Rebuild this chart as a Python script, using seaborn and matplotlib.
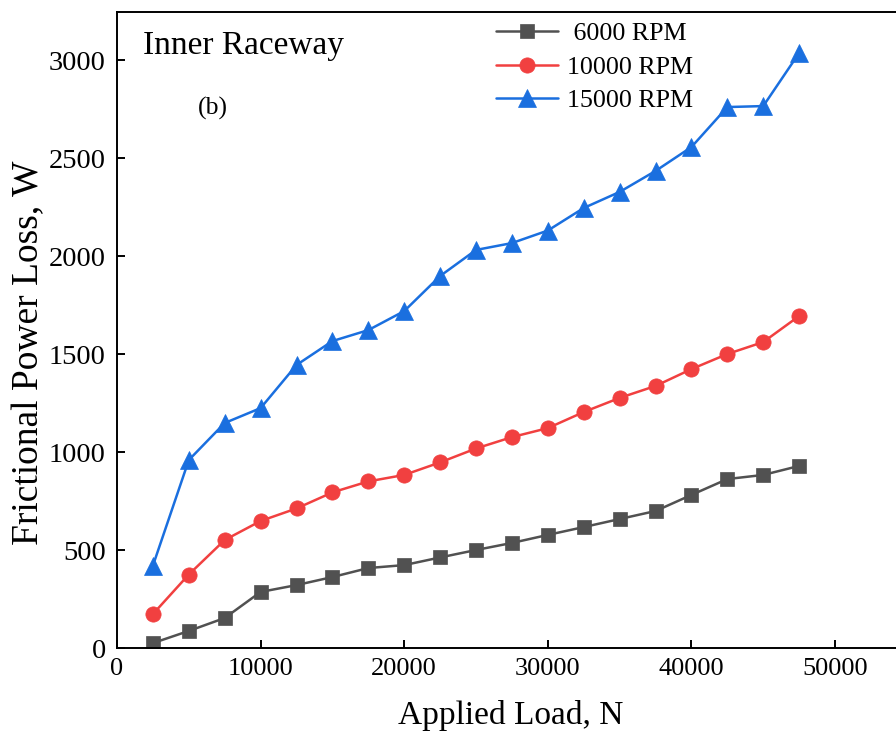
import matplotlib
matplotlib.use("Agg")
import matplotlib.pyplot as plt
import seaborn as sns
import pandas as pd

loads = [2500, 5000, 7500, 10000, 12500, 15000, 17500, 20000, 22500, 25000,
         27500, 30000, 32500, 35000, 37500, 40000, 42500, 45000, 47500]
rpm6000 = [25, 87, 153, 286, 321, 362, 408, 423, 462, 500,
           536, 577, 617, 658, 699, 781, 862, 883, 929]
rpm10000 = [173, 375, 551, 648, 712, 794, 850, 883, 947, 1018,
            1076, 1122, 1204, 1276, 1337, 1423, 1500, 1561, 1694]
rpm15000 = [420, 959, 1148, 1224, 1444, 1566, 1622, 1719, 1898, 2031,
            2066, 2130, 2245, 2327, 2434, 2556, 2760, 2765, 3036]
series_labels = [" 6000 RPM", "10000 RPM", "15000 RPM"]
colors = ["#515151", "#F14040", "#1A6FDF"]
markers = ["s", "o", "^"]
msizes = [10, 11, 12.5]
xticks = [0, 10000, 20000, 30000, 40000, 50000]
yticks = [0, 500, 1000, 1500, 2000, 2500, 3000]

sns.set_style("ticks")
plt.rcParams["font.family"] = ["Liberation Serif", "DejaVu Serif"]
plt.rcParams["text.color"] = "black"
plt.rcParams["axes.labelcolor"] = "black"
plt.rcParams["xtick.color"] = "black"
plt.rcParams["ytick.color"] = "black"

W, H = 896, 736
fig = plt.figure(figsize=(W / 100, H / 100), dpi=100)
ax_l, ax_r, ax_b, ax_t = 117, 904, 648, 12
ax = fig.add_axes([ax_l / W, (H - ax_b) / H, (ax_r - ax_l) / W, (ax_b - ax_t) / H])

for vals, lab, c, m, ms in zip([rpm6000, rpm10000, rpm15000], series_labels, colors, markers, msizes):
    df = pd.DataFrame({"load": loads, "loss": vals})
    sns.lineplot(data=df, x="load", y="loss", ax=ax, color=c, marker=m,
                 markersize=ms, markeredgecolor=c, markeredgewidth=0.5,
                 linewidth=1.8, label=lab)

ax.set_xlim(0, 54800)
ax.set_ylim(0, 3245)
ax.set_xticks(xticks)
ax.set_yticks(yticks)
ax.tick_params(axis="both", direction="in", length=6, width=1.4, color="black",
               labelcolor="black")
ax.tick_params(axis="x", labelsize=19, pad=7)
ax.tick_params(axis="y", labelsize=20.5, pad=8)
for s in ["left", "bottom", "top"]:
    ax.spines[s].set_linewidth(1.4)
    ax.spines[s].set_color("black")
ax.spines["right"].set_visible(False)

ax.set_xlabel("Applied Load, N", fontsize=24, color="black")
ax.set_ylabel("Frictional Power Loss, W", fontsize=27, color="black")
ax.xaxis.set_label_coords(0.5, -0.082)
ax.yaxis.set_label_coords(-0.090, 0.464)

ax.text((143 - ax_l) / (ax_r - ax_l), (ax_b - 54) / (ax_b - ax_t), "Inner Raceway",
        transform=ax.transAxes, fontsize=24, va="baseline", ha="left", color="black")
ax.text((198 - ax_l) / (ax_r - ax_l), (ax_b - 108) / (ax_b - ax_t), "(b)",
        transform=ax.transAxes, fontsize=18.5, va="center", ha="left", color="black")

leg = ax.legend(loc="upper left",
                bbox_to_anchor=((496 - ax_l) / (ax_r - ax_l), (ax_b - 22) / (ax_b - ax_t)),
                frameon=False, fontsize=18.7, handlelength=2.4, handletextpad=0.35,
                labelspacing=0.4, borderpad=0, borderaxespad=0)
for t in leg.get_texts():
    t.set_color("black")

fig.savefig("out.png", dpi=100)
